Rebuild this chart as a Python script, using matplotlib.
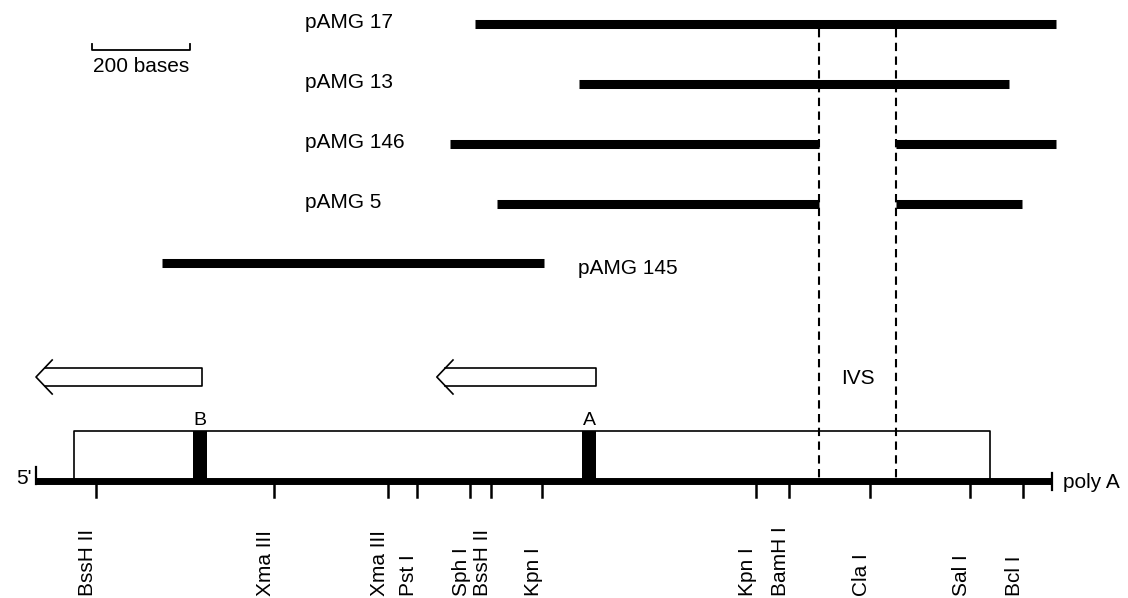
import numpy as np
import matplotlib.pyplot as plt

plt.rcParams['font.family'] = ['Liberation Sans', 'DejaVu Sans']

# Map data (positions in bases from the 5' end)
map_length = 2073
exon_box = (78, 1947)
box_marks = ["B", "A"]
box_mark_pos = [335, 1129]
ivs = (1598, 1755)

clones = ["pAMG 17", "pAMG 13", "pAMG 146", "pAMG 5", "pAMG 145"]
clone_start = [896, 1108, 845, 941, 257]
clone_end = [2082, 1986, 2082, 2012, 1037]
clone_spliced = [False, False, True, True, False]

sites = ["BssH II", "Xma III", "Xma III", "Pst I", "Sph I", "BssH II", "Kpn I",
         "Kpn I", "BamH I", "Cla I", "Sal I", "Bcl I"]
site_pos = [122, 486, 718, 778, 886, 929, 1033, 1469, 1537, 1702, 1906, 2014]

arrow_tail = [339, 1143]
arrow_tip = [0, 818]

scale_bases = 200

# Layout (x in bases, y in pixel rows)
px_per_base = 0.49
x0_px = 36
row_y = [24, 84, 144, 204, 263]
label_x = [549, 549, 549, 549, 1106]
label_dy = [-2, -1, -1, -1, 5]
base_y = 481
box_top = 431
arrow_y = 377

fig = plt.figure(figsize=(11.28, 5.98), dpi=100)
ax = fig.add_axes([0, 0, 1, 1])
ax.set_xlim(-x0_px / px_per_base, (1128 - x0_px) / px_per_base)
ax.set_ylim(598, 0)
ax.axis("off")

fs = 15

# clone bars
for i in range(len(clones)):
    y = row_y[i]
    if clone_spliced[i]:
        segs = [(clone_start[i], ivs[0]), (ivs[1], clone_end[i])]
    else:
        segs = [(clone_start[i], clone_end[i])]
    for a, b in segs:
        ax.plot([a, b], [y, y], color="black", lw=6.5, solid_capstyle="butt")
    ax.text(label_x[i], y + label_dy[i], clones[i], fontsize=fs, ha="left", va="center")

# IVS dashed lines
for xv in ivs:
    ax.plot([xv, xv], [row_y[0] + 5, base_y], color="black", lw=1.5,
            linestyle=(0, (4, 2.6)))
ax.text(np.mean(ivs), arrow_y + 2, "IVS", fontsize=fs, ha="center", va="center")

# scale bar
sb_x = (92 - x0_px) / px_per_base
ax.plot([sb_x, sb_x, sb_x + scale_bases, sb_x + scale_bases], [44, 50, 50, 44],
        color="black", lw=1.3)
ax.text(sb_x + scale_bases / 2, 67, f"{scale_bases} bases", fontsize=fs,
        ha="center", va="center")

# open arrows
hl = 33
hw = 17
sh = 9
for tail, tip in zip(arrow_tail, arrow_tip):
    ax.plot([tip + hl, tip, tip + hl], [arrow_y - hw, arrow_y, arrow_y + hw],
            color="black", lw=1.2)
    sx = tip + hl * sh / hw
    ax.plot([sx, tail, tail, sx], [arrow_y - sh, arrow_y - sh, arrow_y + sh, arrow_y + sh],
            color="black", lw=1.2)

# exon box
ax.plot([exon_box[0], exon_box[0], exon_box[1], exon_box[1]],
        [base_y, box_top, box_top, base_y], color="black", lw=1.2)
for name, p in zip(box_marks, box_mark_pos):
    ax.fill_between([p - 14, p + 14], box_top, base_y, color="black", lw=0)
    ax.text(p, box_top - 2, name, fontsize=fs - 1, ha="center", va="bottom")

# baseline
ax.plot([0, map_length], [base_y, base_y], color="black", lw=5, solid_capstyle="butt")
ax.plot([0, 0], [467, base_y + 3], color="black", lw=1.6)
ax.plot([map_length, map_length], [473, 490], color="black", lw=1.6)
ax.text(-8, base_y - 3, "5'", fontsize=fs, ha="right", va="center")
ax.text(map_length + 22, base_y + 2, "poly A", fontsize=fs, ha="left", va="center")

# restriction sites
for name, p in zip(sites, site_pos):
    ax.plot([p, p], [base_y, 497], color="black", lw=1.8)
    ax.text(p + 2, 596, name, fontsize=fs, rotation=90, ha="right", va="bottom")

plt.savefig("out.png", dpi=100)
